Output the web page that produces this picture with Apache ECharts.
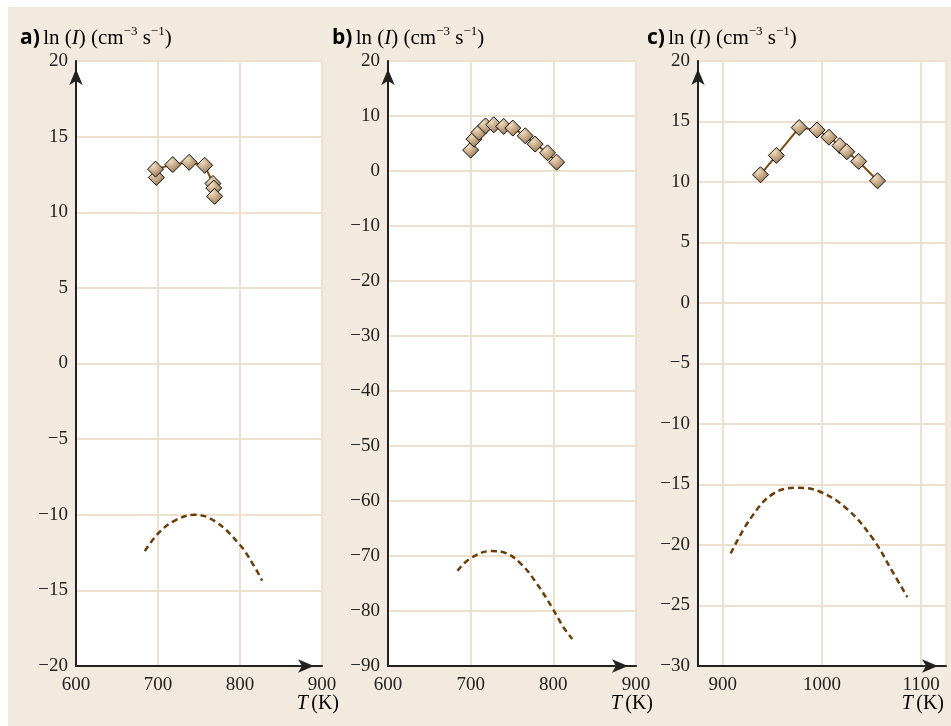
<!DOCTYPE html>
<html>
<head>
<meta charset="utf-8">
<script src="https://cdn.jsdelivr.net/npm/echarts@6/dist/echarts.min.js"></script>
<style>
  body { margin: 0; background: #fff; }
  #bg { position: absolute; left: 8px; top: 7px; width: 943px; height: 719px; background: #f2eadf; }
  #chart { position: absolute; left: 0; top: 0; width: 951px; height: 726px; }
</style>
</head>
<body>
<div id="bg"></div>
<div id="chart"></div>
<script>
// panel a) measured points and model curve
var aPointsT = [698, 697, 718, 738, 757, 767, 768, 769];
var aPointsV = [12.3, 12.85, 13.15, 13.3, 13.1, 11.9, 11.6, 11.05];
var aCurveT = [684, 700, 720, 745, 770, 800, 815, 827];
var aCurveV = [-12.4, -11.25, -10.4, -10.0, -10.45, -12.0, -13.2, -14.35];

// panel b)
var bPointsT = [700, 704, 710, 718, 728, 740, 751, 766, 778, 793, 804];
var bPointsV = [3.8, 5.8, 7.0, 8.2, 8.4, 8.1, 7.8, 6.4, 4.9, 3.3, 1.6];
var bCurveT = [684, 700, 725, 743, 762, 780, 799, 812, 823];
var bCurveV = [-72.7, -70.4, -69.1, -69.5, -71.6, -75.0, -79.5, -82.9, -85.1];

// panel c)
var cPointsT = [938, 954, 977, 995, 1007, 1018, 1025, 1037, 1056];
var cPointsV = [10.6, 12.2, 14.5, 14.3, 13.7, 13.0, 12.5, 11.7, 10.1];
var cCurveT = [908, 928, 951, 976, 998, 1025, 1051, 1071, 1086];
var cCurveV = [-20.7, -17.8, -15.75, -15.27, -15.6, -17.0, -19.45, -22.2, -24.3];

var cTicksX = [900, 1000, 1100];
var panelLetters = ['a)', 'b)', 'c)'];

function zip(xs, ys) {
  return xs.map(function (x, i) { return [x, ys[i]]; });
}
function minus(v) { return String(v).replace('-', '\u2212'); }

var serif = 'Liberation Serif';
var gridCol = '#eee0cf';
var axisCol = '#222';

var grids = [
  { left: 76, top: 61, width: 246, height: 605 },
  { left: 388, top: 61, width: 248, height: 605 },
  { left: 698, top: 61, width: 248, height: 605 }
];
grids.forEach(function (g) {
  g.show = true; g.backgroundColor = '#fff'; g.borderColor = '#e6d5c0'; g.borderWidth = 1;
});

function xAxis(idx, min, max, interval, custom) {
  var ax = {
    type: 'value', gridIndex: idx, min: min, max: max,
    axisLine: { onZero: false, lineStyle: { color: axisCol, width: 2 }, symbol: ['none', 'arrow'], symbolSize: [10, 16], symbolOffset: [0, -8] },
    axisTick: { show: false },
    splitLine: { show: true, lineStyle: { color: gridCol, width: 2 } },
    axisLabel: { fontFamily: serif, fontSize: 19, color: axisCol, margin: 10, formatter: minus, showMaxLabel: true, showMinLabel: true }
  };
  if (custom) {
    ax.axisLabel.customValues = custom;
    ax.axisTick.customValues = custom;
  } else {
    ax.interval = interval;
  }
  return ax;
}
function yAxis(idx, min, max, interval) {
  return {
    type: 'value', gridIndex: idx, min: min, max: max, interval: interval,
    axisLine: { onZero: false, lineStyle: { color: axisCol, width: 2 }, symbol: ['none', 'arrow'], symbolSize: [10, 16], symbolOffset: [0, -8] },
    axisTick: { show: false },
    splitLine: { show: true, lineStyle: { color: gridCol, width: 2 } },
    axisLabel: { fontFamily: serif, fontSize: 19, color: axisCol, margin: 8, formatter: minus }
  };
}

var markerFill = {
  type: 'radial', x: 0.35, y: 0.3, r: 0.85,
  colorStops: [{ offset: 0, color: '#f2dec2' }, { offset: 1, color: '#8a6238' }]
};

function pointSeries(idx, t, v) {
  return {
    type: 'line', xAxisIndex: idx, yAxisIndex: idx, data: zip(t, v),
    symbol: 'diamond', symbolSize: 16, z: 5,
    lineStyle: { color: '#7b4a12', width: 2 },
    itemStyle: { color: markerFill, borderColor: '#111', borderWidth: 1 }
  };
}
function curveSeries(idx, t, v) {
  return {
    type: 'line', xAxisIndex: idx, yAxisIndex: idx, data: zip(t, v),
    smooth: 0.4, showSymbol: false, z: 4,
    lineStyle: { color: '#6b3c08', width: 2.5, type: [6, 4] }
  };
}

var titleRich = {
  p: { fontFamily: 'Open Sans', fontWeight: 'bold', fontSize: 21, color: '#8a5212', verticalAlign: 'bottom', lineHeight: 24 },
  t: { fontFamily: serif, fontSize: 21, color: axisCol, verticalAlign: 'bottom', lineHeight: 24 },
  i: { fontFamily: serif, fontStyle: 'italic', fontSize: 21, color: axisCol, verticalAlign: 'bottom', lineHeight: 24 },
  s: { fontFamily: serif, fontSize: 13, color: axisCol, verticalAlign: 'top', lineHeight: 13 }
};
var titleX = [20, 332, 647];
var nameRight = [339, 653, 944];

var graphics = [];
panelLetters.forEach(function (p, k) {
  graphics.push({
    type: 'text', left: titleX[k], top: 25, z: 10,
    style: {
      text: '{p|' + p + '} {t|ln (}{i|I}{t|) (cm}{s|\u22123}{t| s}{s|\u22121}{t|)}',
      rich: titleRich
    }
  });
  graphics.push({
    type: 'text', x: nameRight[k], y: 704, z: 10,
    style: {
      text: '{i|T} {t|(K)}', align: 'right', verticalAlign: 'middle',
      rich: {
        t: { fontFamily: serif, fontSize: 20, color: axisCol },
        i: { fontFamily: serif, fontStyle: 'italic', fontSize: 20, color: axisCol }
      }
    }
  });
});

var chart = echarts.init(document.getElementById('chart'));
chart.setOption({
  animation: false,
  backgroundColor: 'transparent',
  grid: grids,
  xAxis: [
    xAxis(0, 600, 900, 100),
    xAxis(1, 600, 900, 100),
    xAxis(2, 875, 1125, null, cTicksX)
  ],
  yAxis: [
    yAxis(0, -20, 20, 5),
    yAxis(1, -90, 20, 10),
    yAxis(2, -30, 20, 5)
  ],
  series: [
    curveSeries(0, aCurveT, aCurveV),
    pointSeries(0, aPointsT, aPointsV),
    curveSeries(1, bCurveT, bCurveV),
    pointSeries(1, bPointsT, bPointsV),
    curveSeries(2, cCurveT, cCurveV),
    pointSeries(2, cPointsT, cPointsV)
  ],
  graphic: graphics
});
</script>
</body>
</html>
